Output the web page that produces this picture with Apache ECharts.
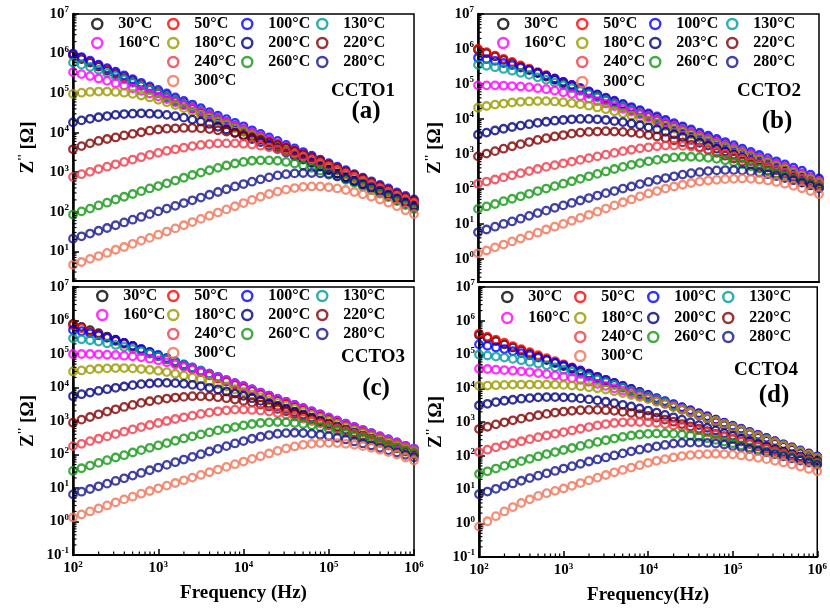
<!DOCTYPE html>
<html><head><meta charset="utf-8">
<script src="https://cdn.jsdelivr.net/npm/echarts@6/dist/echarts.min.js"></script>
<style>html,body{margin:0;padding:0;background:#fff;}#c{width:830px;height:612px;}</style>
</head><body><div id="c"></div>
<script>
// Frequency as decade exponents: 10 points per decade, 10^2 .. 10^6 Hz
const freqExp = [2.0,2.1,2.2,2.3,2.4,2.5,2.6,2.7,2.8,2.9,3.0,3.1,3.2,3.3,3.4,3.5,3.6,3.7,3.8,3.9,4.0,4.1,4.2,4.3,4.4,4.5,4.6,4.7,4.8,4.9,5.0,5.1,5.2,5.3,5.4,5.5,5.6,5.7,5.8,5.9,6.0];
const tempsStd = ['30°C','50°C','100°C','130°C','160°C','180°C','200°C','220°C','240°C','260°C','280°C','300°C'];
const tempsB   = ['30°C','50°C','100°C','130°C','160°C','180°C','203°C','220°C','240°C','260°C','280°C','300°C'];
const colors = ['#000000','#ff0000','#0000ff','#009a9a','#ff00ff','#9a9a00','#000080','#800000','#ee3b48','#149614','#14148c','#ef7358'];
// legend grid slots [column,row]
const legendSlots = [[0,0],[1,0],[2,0],[3,0],[0,1],[1,1],[2,1],[3,1],[1,2],[2,2],[3,2],[1,3]];
const xTickExp = [2,3,4,5,6];
const yTickExp = [-1,0,1,2,3,4,5,6,7];

// log10(Z'')
// CCTO1
const a30  = [5.96,5.86,5.77,5.67,5.57,5.48,5.38,5.28,5.19,5.09,5.00,4.90,4.80,4.71,4.61,4.51,4.42,4.32,4.22,4.13,4.03,3.93,3.84,3.74,3.64,3.55,3.45,3.35,3.26,3.16,3.07,2.97,2.87,2.78,2.68,2.58,2.49,2.39,2.29,2.20,2.10];
const a50  = [5.98,5.89,5.79,5.70,5.60,5.51,5.41,5.32,5.22,5.13,5.03,4.94,4.84,4.75,4.65,4.56,4.46,4.37,4.27,4.18,4.08,3.99,3.89,3.80,3.70,3.61,3.51,3.42,3.32,3.23,3.13,3.04,2.94,2.85,2.75,2.66,2.56,2.47,2.37,2.28,2.18];
const a100 = [6.00,5.91,5.82,5.72,5.63,5.54,5.45,5.35,5.26,5.17,5.08,4.99,4.89,4.80,4.71,4.62,4.52,4.43,4.34,4.25,4.16,4.06,3.97,3.88,3.79,3.69,3.60,3.51,3.42,3.32,3.23,3.14,3.05,2.95,2.86,2.77,2.68,2.59,2.49,2.40,2.31];
const a130 = [5.77,5.72,5.66,5.59,5.51,5.43,5.35,5.26,5.18,5.09,5.00,4.91,4.82,4.73,4.64,4.55,4.46,4.37,4.28,4.19,4.09,4.00,3.91,3.82,3.73,3.64,3.55,3.45,3.36,3.27,3.18,3.09,2.99,2.90,2.81,2.72,2.63,2.54,2.44,2.35,2.26];
const a160 = [5.53,5.48,5.43,5.37,5.31,5.25,5.19,5.12,5.06,4.99,4.92,4.85,4.77,4.69,4.61,4.53,4.44,4.36,4.27,4.18,4.09,4.00,3.91,3.82,3.73,3.64,3.55,3.45,3.36,3.27,3.18,3.09,2.99,2.90,2.81,2.72,2.63,2.54,2.44,2.35,2.25];
const a180 = [4.98,5.01,5.03,5.04,5.04,5.03,5.01,4.98,4.94,4.89,4.83,4.77,4.70,4.62,4.54,4.46,4.38,4.29,4.21,4.12,4.03,3.94,3.85,3.76,3.67,3.58,3.49,3.40,3.31,3.22,3.13,3.04,2.95,2.86,2.77,2.68,2.59,2.50,2.41,2.32,2.23];
const a200 = [4.26,4.31,4.35,4.39,4.42,4.45,4.47,4.48,4.49,4.48,4.47,4.45,4.42,4.38,4.33,4.28,4.22,4.15,4.08,4.00,3.92,3.84,3.76,3.67,3.59,3.50,3.41,3.32,3.23,3.14,3.05,2.96,2.87,2.78,2.69,2.60,2.51,2.42,2.33,2.24,2.15];
const a220 = [3.58,3.66,3.73,3.79,3.84,3.88,3.93,3.97,4.01,4.05,4.08,4.10,4.11,4.12,4.12,4.11,4.09,4.06,4.03,3.99,3.94,3.88,3.82,3.76,3.69,3.62,3.54,3.46,3.38,3.29,3.20,3.11,3.02,2.93,2.84,2.74,2.65,2.56,2.46,2.37,2.28];
const a240 = [2.88,2.95,3.01,3.08,3.14,3.20,3.26,3.32,3.38,3.44,3.49,3.54,3.58,3.62,3.66,3.69,3.71,3.73,3.73,3.73,3.72,3.70,3.67,3.63,3.58,3.52,3.46,3.39,3.31,3.23,3.15,3.06,2.97,2.88,2.79,2.70,2.60,2.51,2.41,2.32,2.22];
const a260 = [1.93,2.01,2.08,2.16,2.23,2.31,2.38,2.45,2.52,2.59,2.65,2.72,2.79,2.86,2.93,2.99,3.05,3.11,3.17,3.22,3.26,3.29,3.30,3.30,3.29,3.26,3.22,3.17,3.11,3.04,2.97,2.89,2.81,2.73,2.64,2.55,2.46,2.37,2.27,2.17,2.07];
const a280 = [1.32,1.38,1.45,1.52,1.59,1.66,1.73,1.80,1.87,1.94,2.01,2.08,2.15,2.22,2.29,2.36,2.43,2.50,2.57,2.64,2.70,2.76,2.82,2.87,2.92,2.95,2.97,2.98,2.98,2.97,2.94,2.90,2.84,2.77,2.70,2.62,2.53,2.43,2.33,2.22,2.11];
const a300 = [0.66,0.73,0.81,0.88,0.96,1.04,1.11,1.19,1.27,1.34,1.42,1.50,1.58,1.66,1.74,1.82,1.90,1.98,2.06,2.14,2.22,2.30,2.38,2.45,2.51,2.56,2.60,2.63,2.64,2.64,2.62,2.59,2.55,2.50,2.44,2.38,2.31,2.23,2.14,2.04,1.94];
// CCTO2
const b30  = [5.98,5.88,5.79,5.69,5.60,5.50,5.41,5.31,5.21,5.12,5.02,4.93,4.83,4.74,4.64,4.54,4.45,4.35,4.26,4.16,4.07,3.97,3.87,3.78,3.68,3.59,3.49,3.40,3.30,3.20,3.11,3.01,2.92,2.82,2.73,2.63,2.53,2.44,2.34,2.25,2.15];
const b50  = [6.00,5.91,5.81,5.72,5.63,5.53,5.44,5.34,5.25,5.16,5.06,4.97,4.88,4.78,4.69,4.59,4.50,4.41,4.31,4.22,4.13,4.03,3.94,3.84,3.75,3.66,3.56,3.47,3.38,3.28,3.19,3.09,3.00,2.91,2.81,2.72,2.63,2.53,2.44,2.34,2.25];
const b100 = [5.75,5.71,5.66,5.60,5.54,5.47,5.40,5.32,5.24,5.15,5.06,4.97,4.88,4.79,4.70,4.61,4.52,4.43,4.34,4.25,4.16,4.07,3.97,3.88,3.79,3.70,3.61,3.52,3.43,3.34,3.25,3.15,3.06,2.97,2.88,2.79,2.70,2.61,2.52,2.41,2.30];
const b130 = [5.55,5.52,5.48,5.43,5.38,5.32,5.26,5.19,5.12,5.04,4.96,4.88,4.80,4.71,4.62,4.53,4.44,4.35,4.26,4.17,4.08,3.99,3.90,3.81,3.72,3.63,3.53,3.44,3.35,3.26,3.17,3.08,2.99,2.90,2.81,2.72,2.62,2.52,2.42,2.32,2.22];
const b160 = [4.96,4.96,4.96,4.95,4.94,4.93,4.91,4.88,4.85,4.81,4.76,4.71,4.65,4.58,4.51,4.44,4.37,4.29,4.21,4.13,4.05,3.96,3.88,3.79,3.70,3.61,3.52,3.43,3.34,3.25,3.16,3.07,2.98,2.89,2.80,2.71,2.62,2.52,2.42,2.32,2.22];
const b180 = [4.32,4.37,4.41,4.44,4.47,4.49,4.50,4.51,4.51,4.50,4.48,4.45,4.42,4.38,4.33,4.28,4.22,4.16,4.10,4.03,3.96,3.88,3.80,3.72,3.64,3.55,3.47,3.38,3.29,3.20,3.11,3.02,2.93,2.84,2.75,2.66,2.57,2.47,2.38,2.28,2.18];
const b203 = [3.55,3.61,3.67,3.72,3.77,3.81,3.85,3.89,3.92,3.95,3.97,3.99,4.00,4.00,3.99,3.97,3.94,3.91,3.87,3.82,3.76,3.70,3.63,3.56,3.48,3.40,3.32,3.24,3.15,3.07,2.98,2.89,2.80,2.71,2.62,2.53,2.44,2.35,2.26,2.17,2.08];
const b220 = [2.93,3.01,3.08,3.15,3.22,3.28,3.34,3.40,3.45,3.50,3.54,3.58,3.61,3.63,3.64,3.65,3.64,3.63,3.61,3.58,3.54,3.50,3.45,3.39,3.33,3.26,3.19,3.11,3.03,2.95,2.87,2.78,2.70,2.61,2.52,2.43,2.35,2.27,2.19,2.11,2.03];
const b240 = [2.15,2.21,2.27,2.33,2.39,2.45,2.51,2.57,2.63,2.68,2.73,2.78,2.83,2.88,2.93,2.98,3.03,3.08,3.12,3.16,3.19,3.22,3.24,3.24,3.23,3.21,3.17,3.12,3.06,3.00,2.93,2.86,2.78,2.70,2.62,2.54,2.46,2.38,2.29,2.20,2.11];
const b260 = [1.43,1.50,1.57,1.65,1.72,1.79,1.86,1.94,2.01,2.08,2.15,2.22,2.29,2.36,2.43,2.50,2.57,2.63,2.69,2.74,2.79,2.83,2.87,2.90,2.92,2.92,2.91,2.89,2.86,2.82,2.77,2.71,2.65,2.58,2.51,2.44,2.37,2.29,2.21,2.13,2.05];
const b280 = [0.76,0.84,0.92,1.00,1.07,1.15,1.23,1.31,1.38,1.46,1.53,1.60,1.67,1.74,1.81,1.88,1.94,2.01,2.07,2.14,2.20,2.26,2.31,2.36,2.41,2.45,2.48,2.51,2.53,2.54,2.54,2.53,2.50,2.47,2.42,2.37,2.31,2.25,2.18,2.10,2.02];
const b300 = [0.16,0.24,0.33,0.41,0.50,0.58,0.67,0.75,0.84,0.92,1.00,1.09,1.17,1.26,1.35,1.44,1.53,1.62,1.70,1.79,1.87,1.94,2.01,2.07,2.12,2.17,2.21,2.24,2.26,2.28,2.29,2.30,2.29,2.27,2.24,2.20,2.15,2.09,2.02,1.94,1.85];
// CCTO3
const c30  = [5.90,5.81,5.71,5.62,5.52,5.43,5.33,5.24,5.14,5.05,4.95,4.86,4.76,4.67,4.57,4.48,4.38,4.29,4.19,4.10,4.00,3.91,3.81,3.72,3.62,3.53,3.43,3.34,3.24,3.15,3.05,2.96,2.86,2.77,2.67,2.58,2.48,2.39,2.29,2.20,2.10];
const c50  = [5.86,5.77,5.67,5.58,5.49,5.39,5.30,5.21,5.11,5.02,4.93,4.83,4.74,4.64,4.55,4.46,4.36,4.27,4.18,4.08,3.99,3.90,3.80,3.71,3.62,3.52,3.43,3.34,3.24,3.15,3.06,2.96,2.87,2.77,2.68,2.59,2.49,2.40,2.31,2.21,2.12];
const c100 = [5.72,5.68,5.62,5.56,5.49,5.41,5.33,5.24,5.15,5.06,4.97,4.88,4.78,4.69,4.60,4.50,4.41,4.32,4.22,4.13,4.04,3.94,3.85,3.76,3.66,3.57,3.48,3.38,3.29,3.20,3.10,3.01,2.92,2.82,2.73,2.64,2.54,2.45,2.36,2.26,2.17];
const c130 = [5.47,5.44,5.41,5.37,5.32,5.27,5.21,5.15,5.08,5.01,4.93,4.85,4.77,4.68,4.59,4.50,4.41,4.32,4.22,4.13,4.04,3.94,3.85,3.76,3.66,3.57,3.48,3.38,3.29,3.20,3.10,3.01,2.92,2.82,2.73,2.64,2.54,2.45,2.36,2.26,2.17];
const c160 = [5.00,5.00,5.00,4.99,4.98,4.97,4.95,4.93,4.90,4.86,4.81,4.75,4.69,4.62,4.55,4.47,4.39,4.30,4.21,4.12,4.03,3.94,3.84,3.75,3.66,3.57,3.47,3.38,3.29,3.19,3.10,3.01,2.91,2.82,2.73,2.63,2.54,2.45,2.35,2.26,2.16];
const c180 = [4.48,4.51,4.54,4.56,4.57,4.58,4.58,4.57,4.55,4.53,4.50,4.46,4.41,4.36,4.30,4.24,4.17,4.10,4.03,3.95,3.87,3.79,3.71,3.62,3.54,3.45,3.36,3.27,3.18,3.09,3.00,2.91,2.82,2.73,2.64,2.55,2.46,2.37,2.28,2.19,2.10];
const c200 = [3.74,3.80,3.85,3.90,3.95,3.99,4.03,4.07,4.10,4.12,4.14,4.14,4.13,4.11,4.08,4.04,3.99,3.94,3.88,3.82,3.75,3.68,3.60,3.52,3.44,3.36,3.27,3.19,3.10,3.01,2.92,2.83,2.74,2.65,2.56,2.47,2.38,2.29,2.20,2.11,2.02];
const c220 = [2.95,3.04,3.12,3.20,3.28,3.35,3.42,3.48,3.54,3.59,3.63,3.67,3.70,3.72,3.74,3.74,3.73,3.71,3.68,3.64,3.60,3.55,3.49,3.43,3.36,3.29,3.21,3.13,3.05,2.97,2.88,2.80,2.71,2.62,2.53,2.45,2.36,2.27,2.18,2.09,2.01];
const c240 = [2.25,2.32,2.40,2.47,2.54,2.61,2.68,2.75,2.82,2.88,2.94,3.00,3.06,3.11,3.16,3.21,3.25,3.29,3.32,3.34,3.34,3.33,3.31,3.28,3.24,3.19,3.13,3.07,3.00,2.93,2.86,2.78,2.70,2.62,2.54,2.46,2.38,2.30,2.21,2.13,2.05];
const c260 = [1.51,1.59,1.67,1.75,1.83,1.91,1.98,2.06,2.13,2.20,2.27,2.34,2.41,2.48,2.54,2.60,2.66,2.72,2.77,2.82,2.87,2.91,2.94,2.96,2.97,2.96,2.94,2.91,2.87,2.82,2.77,2.71,2.64,2.57,2.50,2.43,2.35,2.27,2.19,2.11,2.03];
const c280 = [0.81,0.89,0.97,1.05,1.13,1.21,1.29,1.37,1.45,1.53,1.61,1.69,1.77,1.85,1.93,2.01,2.09,2.17,2.25,2.33,2.40,2.47,2.53,2.58,2.62,2.64,2.65,2.64,2.62,2.59,2.55,2.50,2.45,2.39,2.33,2.27,2.20,2.13,2.06,1.99,1.92];
const c300 = [0.12,0.21,0.30,0.39,0.48,0.57,0.66,0.74,0.83,0.91,0.99,1.07,1.15,1.23,1.31,1.39,1.47,1.55,1.63,1.71,1.79,1.87,1.95,2.03,2.11,2.18,2.24,2.29,2.32,2.34,2.35,2.34,2.32,2.29,2.25,2.20,2.14,2.07,2.00,1.91,1.82];
// CCTO4
const d30  = [5.58,5.49,5.40,5.30,5.21,5.12,5.03,4.94,4.84,4.75,4.66,4.57,4.48,4.38,4.29,4.20,4.11,4.02,3.92,3.83,3.74,3.65,3.56,3.46,3.37,3.28,3.19,3.10,3.00,2.91,2.82,2.73,2.64,2.54,2.45,2.36,2.27,2.18,2.08,1.99,1.90];
const d50  = [5.62,5.53,5.44,5.35,5.25,5.16,5.07,4.98,4.89,4.80,4.71,4.62,4.53,4.43,4.34,4.25,4.16,4.07,3.98,3.89,3.80,3.70,3.61,3.52,3.43,3.34,3.25,3.16,3.07,2.97,2.88,2.79,2.70,2.61,2.52,2.43,2.34,2.25,2.15,2.06,1.97];
const d100 = [5.30,5.26,5.21,5.16,5.10,5.04,4.98,4.91,4.84,4.76,4.68,4.60,4.52,4.43,4.34,4.25,4.16,4.07,3.98,3.89,3.80,3.71,3.62,3.53,3.44,3.35,3.26,3.17,3.07,2.98,2.89,2.80,2.71,2.62,2.53,2.43,2.34,2.25,2.16,2.07,1.98];
const d130 = [5.00,4.97,4.94,4.91,4.87,4.83,4.78,4.73,4.68,4.62,4.55,4.49,4.42,4.33,4.26,4.18,4.10,4.02,3.93,3.85,3.76,3.68,3.59,3.49,3.40,3.31,3.22,3.13,3.04,2.95,2.86,2.77,2.68,2.59,2.50,2.41,2.32,2.22,2.13,2.04,1.95];
const d160 = [4.58,4.57,4.55,4.54,4.52,4.50,4.48,4.45,4.42,4.38,4.34,4.30,4.25,4.19,4.13,4.07,4.00,3.93,3.86,3.78,3.70,3.62,3.54,3.46,3.38,3.29,3.20,3.11,3.02,2.93,2.84,2.75,2.66,2.57,2.48,2.39,2.30,2.21,2.12,2.03,1.93];
const d180 = [4.07,4.08,4.09,4.10,4.11,4.11,4.11,4.11,4.11,4.11,4.10,4.08,4.06,4.03,4.00,3.96,3.91,3.86,3.80,3.74,3.68,3.60,3.53,3.44,3.36,3.28,3.20,3.11,3.03,2.94,2.84,2.75,2.66,2.57,2.48,2.39,2.30,2.22,2.12,2.03,1.94];
const d200 = [3.49,3.54,3.59,3.63,3.66,3.69,3.71,3.73,3.74,3.74,3.73,3.72,3.70,3.67,3.64,3.60,3.56,3.51,3.46,3.40,3.34,3.28,3.21,3.14,3.07,2.99,2.91,2.83,2.75,2.67,2.59,2.51,2.43,2.35,2.27,2.19,2.12,2.05,1.98,1.91,1.84];
const d220 = [2.79,2.86,2.93,2.99,3.05,3.10,3.15,3.20,3.24,3.28,3.31,3.33,3.35,3.36,3.36,3.35,3.33,3.30,3.27,3.23,3.18,3.13,3.07,3.01,2.94,2.87,2.80,2.73,2.65,2.58,2.50,2.43,2.35,2.28,2.21,2.14,2.07,2.00,1.93,1.87,1.81];
const d240 = [2.11,2.18,2.25,2.31,2.37,2.43,2.49,2.55,2.60,2.65,2.70,2.75,2.80,2.85,2.90,2.94,2.97,2.99,3.00,3.00,2.99,2.97,2.94,2.90,2.86,2.81,2.75,2.69,2.63,2.56,2.49,2.42,2.35,2.28,2.21,2.14,2.07,2.00,1.93,1.86,1.79];
const d260 = [1.46,1.54,1.62,1.70,1.77,1.84,1.91,1.98,2.05,2.11,2.17,2.23,2.29,2.35,2.41,2.46,2.51,2.56,2.60,2.63,2.65,2.66,2.66,2.65,2.63,2.60,2.56,2.52,2.47,2.42,2.37,2.31,2.25,2.19,2.13,2.07,2.01,1.95,1.89,1.83,1.77];
const d280 = [0.86,0.94,1.02,1.10,1.18,1.26,1.34,1.41,1.48,1.55,1.62,1.69,1.76,1.83,1.89,1.95,2.01,2.07,2.13,2.18,2.23,2.28,2.32,2.36,2.38,2.39,2.39,2.38,2.36,2.33,2.29,2.25,2.20,2.15,2.10,2.04,1.98,1.92,1.86,1.80,1.73];
const d300 = [-0.10,0.06,0.21,0.35,0.48,0.60,0.71,0.81,0.89,0.96,1.03,1.11,1.19,1.27,1.35,1.43,1.51,1.58,1.65,1.72,1.79,1.85,1.90,1.95,1.99,2.02,2.04,2.05,2.06,2.05,2.04,2.01,1.98,1.94,1.90,1.85,1.80,1.74,1.68,1.61,1.54];

const panelSeries = [
  [a30,a50,a100,a130,a160,a180,a200,a220,a240,a260,a280,a300],
  [b30,b50,b100,b130,b160,b180,b203,b220,b240,b260,b280,b300],
  [c30,c50,c100,c130,c160,c180,c200,c220,c240,c260,c280,c300],
  [d30,d50,d100,d130,d160,d180,d200,d220,d240,d260,d280,d300]
];
const panelTemps = [tempsStd, tempsB, tempsStd, tempsStd];
const panelNames = ['CCTO1','CCTO2','CCTO3','CCTO4'];
const panelTags = ['(a)','(b)','(c)','(d)'];
const yMinExp = [0.25, -0.66, -1, -1];

// layout
const FONT = '"Liberation Serif","Times New Roman",serif';
const grids = [
  {left:73, top:14, width:341, height:267},
  {left:478, top:14, width:341, height:268},
  {left:73, top:287, width:341, height:268},
  {left:479, top:287, width:341, height:270}
];
const legendCols = [[107,183,257,332],[513,592,665,742],[112,183,257,332],[517,590,663,738]];
const legendRows = [[25,44,63,82],[25,44,63,83],[297,316,335,354],[298,319,338,357]];
const namePos = [[363,91],[769,91],[373,357],[766,370]];
const tagPos = [[366,112],[777,122],[376,389],[774,396]];

function decadeLabel(v){
  const e = Math.log10(v), r = Math.round(e);
  if (Math.abs(e - r) > 1e-4) return '';
  return '{b|10}{s|' + r + '}';
}
const labelRich = {
  b:{fontFamily:FONT, fontSize:15, fontWeight:'bold', color:'#000'},
  s:{fontFamily:FONT, fontSize:9, fontWeight:'bold', color:'#000', padding:[0,0,8,0]}
};
const minorM = [2,3,4,5,6,7,8,9];

const option = {animation:false, backgroundColor:'#fff', grid:[], xAxis:[], yAxis:[], series:[], legend:[], graphic:[]};

for (let i=0;i<4;i++){
  const g = grids[i];
  option.grid.push(Object.assign({show:true, borderColor:'#000', borderWidth:1.5, backgroundColor:'transparent'}, g));
  const yMin = Math.pow(10, yMinExp[i]);
  const showX = i >= 2;
  option.xAxis.push({
    type:'log', logBase:10, gridIndex:i, min:100, max:1e6,
    axisLine:{show:true, onZero:false, lineStyle:{color:'#000', width:2}},
    axisTick:{show:showX, inside:true, length:6, lineStyle:{color:'#000', width:1.5}},
    axisLabel:{show:showX, formatter:decadeLabel, rich:labelRich, margin:5, color:'#000'},
    splitLine:{show:false}, minorTick:{show:false}, minorSplitLine:{show:false},
    name: i===2 ? 'Frequency (Hz)' : (i===3 ? 'Frequency(Hz)' : ''),
    nameLocation:'middle', nameGap:29,
    nameTextStyle:{fontFamily:FONT, fontSize:19, fontWeight:'bold', color:'#000'}
  });
  option.yAxis.push({
    type:'log', logBase:10, gridIndex:i, min:yMin, max:1e7,
    axisLine:{show:true, onZero:false, lineStyle:{color:'#000', width:2.5}},
    axisTick:{show:true, inside:true, length:6, lineStyle:{color:'#000', width:1.5}},
    axisLabel:{formatter:decadeLabel, rich:labelRich, margin:4, color:'#000', showMinLabel:true},
    splitLine:{show:false}, minorTick:{show:false}, minorSplitLine:{show:false},
    name:"{z|Z}{p|''}{z| [Ω]}", nameLocation:'middle', nameRotate:90, nameGap:(i%2===0?34:32),
    nameTextStyle:{fontFamily:FONT, fontSize:19, fontWeight:'bold', color:'#000',
      rich:{z:{fontFamily:FONT, fontSize:19, fontWeight:'bold', color:'#000'},
            p:{fontFamily:FONT, fontSize:12, fontWeight:'bold', color:'#000', padding:[0,0,10,0]}}}
  });
  // data series
  const temps = panelTemps[i];
  panelSeries[i].forEach((vals, j) => {
    option.series.push({
      type:'scatter', name:temps[j], xAxisIndex:i, yAxisIndex:i,
      data: freqExp.map((e,k) => [Math.pow(10,e), Math.pow(10, vals[k])]),
      symbol:'circle', symbolSize:7.5,
      itemStyle:{color:'rgba(255,255,255,0)', borderColor:colors[j], borderWidth:2.3},
      emphasis:{disabled:true}, silent:true
    });
  });
  // minor ticks on y axis
  const yMinor = [];
  for (let k=Math.floor(yMinExp[i]); k<7; k++) minorM.forEach(m => { const v = m*Math.pow(10,k); if (v > yMin && v < 1e7) yMinor.push([100, v]); });
  option.series.push({
    type:'custom', xAxisIndex:i, yAxisIndex:i, silent:true, clip:false, z:5,
    data:yMinor,
    renderItem:(p, api) => { const c = api.coord([api.value(0), api.value(1)]);
      return {type:'line', shape:{x1:c[0], y1:c[1], x2:c[0]+3.5, y2:c[1]}, style:{stroke:'#000', lineWidth:1.2}}; }
  });
  if (showX){
    const xMinor = [];
    for (let k=2;k<6;k++) minorM.forEach(m => xMinor.push([m*Math.pow(10,k), yMin]));
    option.series.push({
      type:'custom', xAxisIndex:i, yAxisIndex:i, silent:true, clip:false, z:5,
      data:xMinor,
      renderItem:(p, api) => { const c = api.coord([api.value(0), api.value(1)]);
        return {type:'line', shape:{x1:c[0], y1:c[1], x2:c[0], y2:c[1]-3.5}, style:{stroke:'#000', lineWidth:1.2}}; }
    });
  }
  // legends
  temps.forEach((t, j) => {
    const slot = legendSlots[j];
    option.legend.push({
      data:[{name:t, icon:'circle', itemStyle:{color:'rgba(255,255,255,0)', borderColor:colors[j], borderWidth:2.5}}],
      left: legendCols[i][slot[0]] - 16, top: legendRows[i][slot[1]] - 9,
      itemWidth:32, itemHeight:10, padding:0, selectedMode:false, symbolKeepAspect:true,
      textStyle:{fontFamily:FONT, fontSize:16, fontWeight:'bold', color:'#000'}
    });
  });
  option.graphic.push({type:'text', x:namePos[i][0], y:namePos[i][1], z:100,
    style:{text:panelNames[i], fill:'#000', font:'bold 19px ' + FONT, align:'center', verticalAlign:'middle'}});
  option.graphic.push({type:'text', x:tagPos[i][0], y:tagPos[i][1], z:100,
    style:{text:panelTags[i], fill:'#000', font:'bold 25px ' + FONT, align:'center', verticalAlign:'middle'}});
}

const chart = echarts.init(document.getElementById('c'), null, {renderer:'canvas'});
chart.setOption(option);
</script>
</body></html>
